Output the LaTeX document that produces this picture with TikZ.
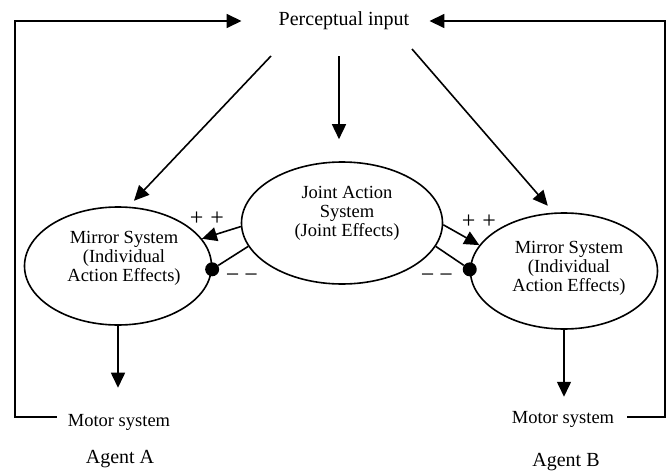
\documentclass[tikz,border=0pt]{standalone}
\usepackage{fontspec}
\setmainfont{Liberation Serif}
\usetikzlibrary{shapes.geometric,arrows.meta}
\begin{document}
\begin{tikzpicture}[x=1pt,y=-1pt,
 conn/.style={line width=1.6pt},
 arr/.style={conn,-{Triangle[length=15pt,width=14pt]}},
 sys/.style={draw,line width=1.6pt,ellipse,inner sep=0pt},
 lbl/.style={inner sep=0pt,font=\fontsize{18.5}{19}\selectfont,align=center},
 big/.style={inner sep=0pt,font=\fontsize{20}{22}\selectfont},
 dotmark/.style={circle,fill=black,inner sep=0pt,minimum size=14pt},
 sign/.style={inner sep=0pt,font=\fontsize{24}{26}\selectfont}]
\useasboundingbox (0,0) rectangle (670,471);
% nodes
\node[big] (pin) at (344,21) {Perceptual input};
\node[sys,minimum width=187pt,minimum height=118pt] (ml) at (118,266) {};
\node[sys,minimum width=201pt,minimum height=122pt] (je) at (342,223) {};
\node[sys,minimum width=187pt,minimum height=116pt] (mr) at (564,271) {};
\node[lbl] (mlt) at (124,258) {Mirror System\\(Individual\\Action Effects)};
\node[lbl] (jet) at (347,213) {Joint Action\\System\\(Joint Effects)};
\node[lbl] (mrt) at (569,268) {Mirror System\\(Individual\\Action Effects)};
\node[lbl] (ma) at (119,422) {Motor system};
\node[lbl] (mb) at (563,419) {Motor system};
\node[big] (aa) at (120,459) {Agent A};
\node[big] (ab) at (566,462) {Agent B};
\coordinate (cl) at (15,417);
\coordinate (cr) at (665,417);
% feedback loops
\draw[arr] ([xshift=-11pt,yshift=5pt]ma.west) -- (cl) |- ([xshift=-37pt]pin.west);
\draw[arr] ([xshift=13pt,yshift=2pt]mb.east) -- (cr) |- ([xshift=20pt]pin.east);
% perceptual input arrows
\draw[arr,shorten >=8pt] ([xshift=-73pt,yshift=-35pt]pin.center) -- (ml.80);
\draw[arr,shorten >=22pt] ([xshift=-5pt,yshift=-35pt]pin.center) -- ([xshift=-3pt]je.north);
\draw[arr,shorten >=9pt] ([xshift=68pt,yshift=-28pt]pin.center) -- (mr.100);
% to motor systems
\draw[arr,shorten >=26pt] (ml.south) -- (ml.south |- ma.north);
\draw[arr,shorten >=14pt] (mr.south) -- (mr.south |- mb.north);
% joint action links
\draw[arr] (je.182) -- (ml.18);
\node[dotmark] (dl) at (ml.-2) {};
\draw[conn] (je.194.6) -- (dl);
\draw[arr] (je.359) -- (mr.163);
\node[dotmark] (dr) at (mr.179) {};
\draw[conn] (je.346) -- (dr);
% signs
\node[sign] (ppl) at (207,219) {+\hspace{7pt}+};
\node[sign] (mml) at (242,278) {−\hspace{5pt}−};
\node[sign] (ppr) at (479,222) {+\hspace{7pt}+};
\node[sign] (mmr) at (437,278) {−\hspace{5pt}−};
\end{tikzpicture}
\end{document}
